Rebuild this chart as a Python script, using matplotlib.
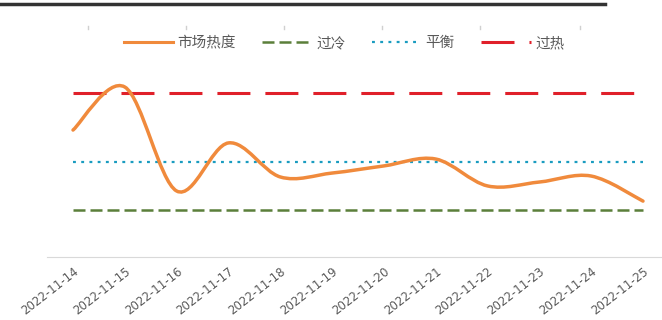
import matplotlib.pyplot as plt
from matplotlib.path import Path
from matplotlib.patches import PathPatch
from matplotlib.lines import Line2D

plt.rcParams['font.family'] = ['Noto Sans CJK SC', 'DejaVu Sans']

dates = ['2022-11-14', '2022-11-15', '2022-11-16', '2022-11-17', '2022-11-18', '2022-11-19',
         '2022-11-20', '2022-11-21', '2022-11-22', '2022-11-23', '2022-11-24', '2022-11-25']
heat = [55.2, 73.9, 28.7, 49.6, 34.8, 36.5, 39.6, 42.6, 30.9, 32.6, 35.2, 24.3]
cold_level = 20.4
balance_level = 41.3
hot_level = 71.3
cold = [cold_level] * len(dates)
balance = [balance_level] * len(dates)
hot = [hot_level] * len(dates)

c_heat = '#F08A3C'
c_cold = '#5B7F3A'
c_bal = '#1A9CC0'
c_hot = '#E0202A'

hot_dash = (10.8, 4.9)
bal_dash = (1.3, 2.4)
cold_dash = (4.8, 2.0)

W, H = 662, 320
fig = plt.figure(figsize=(W / 100, H / 100), dpi=100)
ax = fig.add_axes([47 / W, (H - 257) / H, (W - 47) / W, 230 / H])

x = list(range(len(dates)))

# reference levels
ax.plot(x, hot, color=c_hot, lw=2.2, dashes=hot_dash)
ax.plot(x, balance, color=c_bal, lw=1.6, dashes=bal_dash)
ax.plot(x, cold, color=c_cold, lw=1.8, dashes=cold_dash)

# smoothed curve (Bezier through the points, like a spreadsheet "smooth line")
verts = [(x[0], heat[0])]
codes = [Path.MOVETO]
n = len(x)
for i in range(n - 1):
    p0 = (x[max(i - 1, 0)], heat[max(i - 1, 0)])
    p1 = (x[i], heat[i])
    p2 = (x[i + 1], heat[i + 1])
    p3 = (x[min(i + 2, n - 1)], heat[min(i + 2, n - 1)])
    c1 = (p1[0] + (p2[0] - p0[0]) / 6, p1[1] + (p2[1] - p0[1]) / 6)
    c2 = (p2[0] - (p3[0] - p1[0]) / 6, p2[1] - (p3[1] - p1[1]) / 6)
    verts += [c1, c2, p2]
    codes += [Path.CURVE4] * 3
ax.add_patch(PathPatch(Path(verts, codes), facecolor='none', edgecolor=c_heat,
                       lw=2.5, capstyle='round', zorder=3))

ax.set_xlim(-26 / 51.8, 11 + 19 / 51.8)
ax.set_ylim(0, 100)
for s in ['left', 'right', 'top']:
    ax.spines[s].set_visible(False)
ax.spines['bottom'].set_color('#D9D9D9')
ax.set_yticks([])
ax.set_xticks(x)
ax.set_xticklabels(dates, rotation=38, ha='right', va='top', rotation_mode='anchor',
                   fontsize=8.5, color='#595959', family='DejaVu Sans')
ax.tick_params(axis='x', length=0, pad=6)

handles = [
    Line2D([], [], color=c_heat, lw=2.2),
    Line2D([], [], color=c_cold, lw=1.8, dashes=cold_dash),
    Line2D([], [], color=c_bal, lw=1.6, dashes=bal_dash),
    Line2D([], [], color=c_hot, lw=2.2, dashes=hot_dash),
]
fig.legend(handles, ['市场热度', '过冷', '平衡', '过热'], loc='center',
           bbox_to_anchor=(344 / W, 1 - 43 / H), ncol=4, frameon=False,
           fontsize=10.5, labelcolor='#595959', handlelength=3.4,
           columnspacing=1.8, handletextpad=0.3)

# dark rule at top and faint marks under it
fig.add_artist(Line2D([0, 605 / W], [1 - 4 / H, 1 - 4 / H], color='#333333', lw=2.5,
                      transform=fig.transFigure))
for px in [88, 186, 284, 382, 480, 580]:
    fig.add_artist(Line2D([px / W, px / W], [1 - 26 / H, 1 - 29 / H], color='#D0D0D0',
                          lw=1, transform=fig.transFigure))

fig.savefig('out.png', dpi=100)
